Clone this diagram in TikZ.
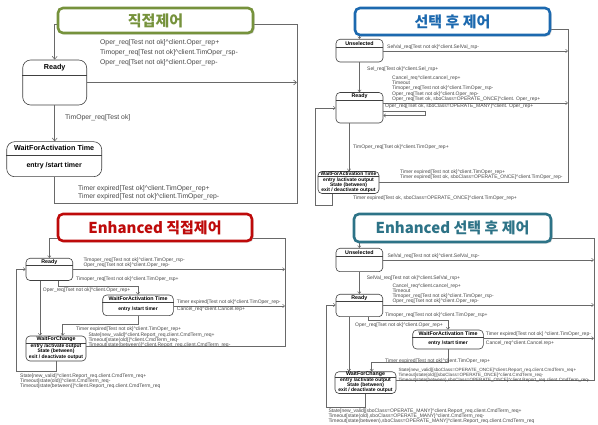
\documentclass[tikz,border=0pt]{standalone}
\usepackage{fontspec}
\setmainfont{Liberation Sans}
\newfontfamily\krfont{Noto Sans CJK KR}
\usetikzlibrary{arrows.meta,fit,shadows}
\definecolor{lncol}{RGB}{105,105,105}
\definecolor{txcol}{RGB}{70,70,70}
\definecolor{cgreen}{RGB}{118,146,60}
\definecolor{cblue}{RGB}{28,105,175}
\definecolor{cred}{RGB}{190,10,10}
\definecolor{cteal}{RGB}{45,115,135}
\newcommand\ca{\textasciicircum}
\newcommand\stbox[7]{%
  \node[#1, fit={(#3,#4) (#5,#6)}] (#2) {};
  \draw[divln] (#2.west |- 0,#7) -- (#2.east |- 0,#7);}
\tikzset{
  ln/.style={draw=lncol, line width=0.5pt},
  ar/.style={ln, -{Straight Barb[length=2pt,width=3.4pt]}},
  arB/.style={ln, line width=0.6pt, -{Straight Barb[length=3pt,width=5pt]}},
  stS/.style={draw=black!75, line width=0.6pt, rounded corners=4pt, inner sep=0pt, fill=white},
  stB/.style={stS, rounded corners=8pt},
  divln/.style={draw=black!75, line width=0.5pt},
  lS/.style={font=\fontsize{5}{5.1}\selectfont, text=txcol, inner sep=0pt, anchor=west, align=left},
  lB/.style={font=\fontsize{6.8}{10}\selectfont, text=txcol, inner sep=0pt, anchor=west, align=left},
  nS/.style={font=\fontsize{5.3}{5}\selectfont\bfseries, inner sep=0pt, align=center},
  nB/.style={font=\fontsize{7.2}{8}\selectfont\bfseries, inner sep=0pt, align=center},
  tbox/.style={draw=#1, line width=2.6pt, rounded corners=5pt, fill=white, inner sep=0pt,
    drop shadow={shadow xshift=1.5pt, shadow yshift=-1.5pt, fill=black!35}},
  ttxt/.style={font=\krfont\bfseries\fontsize{15}{16}\selectfont, text=#1, inner sep=0pt},
}
\begin{document}
\begin{tikzpicture}[x=1pt,y=-1pt]
\useasboundingbox (0,0) rectangle (598,425);
% ================= Q1 =================
\stbox{stB}{r1}{22.7}{60}{86.7}{105}{75}
\node[nB] (r1t) at (54.7,67.5) {Ready};
\stbox{stB}{w1}{6.7}{141.7}{101.7}{176.7}{155}
\node[nB] (w1t) at (54.2,148.4) {WaitForActivation Time};
\node[nB, font=\fontsize{7}{8}\selectfont\bfseries] (w1b) at (54.2,165.8) {entry /start timer};
\coordinate (q1a) at (297,82.5);
\coordinate (q1br) at (297,203);
\coordinate (q1tr) at (297,24);
\draw[arB] (r1.east) -- (q1a);
\draw[arB] (r1.south) -- (r1.south |- w1.north);
\draw[arB] (w1.south) |- (q1br) -- (q1tr) -| (r1.north);
\node[tbox=cgreen, fit={(58,8) (253,33)}] (t1) {};
\node[ttxt=cgreen] (t1t) at (t1) {직접제어};
\node[lB] (q1l1) at (100,52.9) {Oper\_req[Test not ok]\ca{}client.Oper\_rep+\\Timoper\_req[Test not ok]\ca{}client.TimOper\_rsp-\\Oper\_req[Tset not ok]\ca{}client.Oper\_rep-};
\node[lB] (q1l2) at (65,118) {TimOper\_req[Test ok]};
\node[lB, font=\fontsize{6.8}{8.4}\selectfont] (q1l3) at (78,192.5) {Timer expired[Test ok]\ca{}client.TimOper\_rep+\\Timer expired[Test not ok]\ca{}client.TimOper\_rep-};
% ================= Q2 =================
\stbox{stS}{u2}{336}{39.3}{383}{62}{47}
\node[nS] (u2t) at (359.5,43.2) {Unselected};
\stbox{stS}{r2}{336}{92.5}{383}{123}{100}
\node[nS] (r2t) at (359.5,96.3) {Ready};
\stbox{stS}{w2}{318}{171.5}{379}{193.5}{176.5}
\node[nS, font=\fontsize{5}{5}\selectfont\bfseries] (w2t) at (348.5,174) {WaitForActivation Time};
\node[nS, font=\fontsize{5}{4.9}\selectfont\bfseries] (w2b) at (348.5,185.2) {entry /activate output\\State (between)\\exit / deactivate output};
\coordinate (q2a) at (568,51);
\coordinate (q2b) at (568,103);
\coordinate (q2br) at (568,182.5);
\coordinate (q2tr) at (568,29.3);
\coordinate (q2s) at (425,111);
\coordinate (q2s2) at (425,115.5);
\coordinate (q2v) at (349,0);
\coordinate (q2l1) at (332,205);
\coordinate (q2l2) at (315,205);
\coordinate (q2l3) at (315,108);
\draw[ar] (w2.east) -- (q2br) -- (q2tr) -| (u2.north);
\draw[ar] (u2.east |- q2a) -- (q2a);
\draw[ar] (u2.south) -- (r2.north);
\draw[ar] (r2.east |- q2b) -- (q2b);
\draw[ar] (r2.east |- q2s) -- (q2s) -- (q2s2) -- (r2.east |- q2s2);
\draw[ar] (r2.south -| q2v) -- (w2.north -| q2v);
\draw[ar] (w2.south -| q2l1) -- (q2l1) -- (q2l2) -- (q2l3) -- (r2.west |- q2l3);
\node[tbox=cblue, fit={(355,8) (550,35)}] (t2) {};
\node[ttxt=cblue] (t2t) at (t2) {선택 후 제어};
\node[lS] (q2la) at (387,47.5) {SelVal\_req[Test not ok]\ca{}client.SelVal\_rsp-};
\node[lS] (q2lb) at (367,69) {Sel\_req[Test ok]\ca{}client.Sel\_rsp+};
\node[lS] (q2lc) at (392,88.7) {Cancel\_req\ca{}client.cancel\_rep+\\Timeout\\Timoper\_req[Test not ok]\ca{}client.TimOper\_rsp-\\Oper\_req[Tset not ok]\ca{}client.Oper\_rep-\\Oper\_req[Tset ok, sboClass=OPERATE\_ONCE]\ca{}client. Oper\_rep+};
\node[lS] (q2ld) at (385,106.7) {Oper\_req[Tset ok, sboClass=OPERATE\_MANY]\ca{}client. Oper\_rep+};
\node[lS] (q2le) at (353,147.7) {TimOper\_req[Tset ok]\ca{}client.TimOper\_rep+};
\node[lS] (q2lf) at (400,175) {Timer expired[Test not ok]\ca{}client.TimOper\_rep+\\Timer expired[Test ok, sboClass=OPERATE\_ONCE]\ca{}client.TimOper\_rep-};
\node[lS] (q2lg) at (353,198.3) {Timer expired[Test ok, sboClass=OPERATE\_ONCE]\ca{}client.TimOper\_rep+};
% ================= Q3 =================
\stbox{stS}{r3}{26}{258.3}{72.7}{280.5}{265.5}
\node[nS] (r3t) at (49.35,262) {Ready};
\stbox{stS}{w3}{102.7}{295}{173.3}{315.7}{302.5}
\node[nS] (w3t) at (138,298.8) {WaitForActivation Time};
\node[nS, font=\fontsize{5}{5}\selectfont\bfseries] (w3b) at (138,309.2) {entry /start timer};
\stbox{stS}{c3}{26}{336}{86}{361}{343}
\node[nS] (c3t) at (56,339.5) {WaitForChange};
\node[nS, font=\fontsize{5}{4.6}\selectfont\bfseries] (c3b) at (56,351.5) {entry /activate output\\State (between)\\exit / deactivate output};
\coordinate (q3a) at (285,269.3);
\coordinate (q3c) at (285,346.7);
\coordinate (q3tr) at (285,238.3);
\coordinate (q3b) at (58.3,286);
\coordinate (q3d) at (285,306);
\coordinate (q3e) at (62.7,324.3);
\coordinate (q3f) at (40,0);
\coordinate (q3g) at (56,371);
\coordinate (q3h) at (16,371);
\coordinate (q3i) at (16,269.3);
\draw[ar] (c3.east |- q3c) -- (q3c) -- (q3tr) -| (r3.north);
\draw[ar] (r3.east |- q3a) -- (q3a);
\draw[ar] (r3.south -| q3b) -- (q3b) -| (w3.north);
\draw[ar] (w3.east |- q3d) -- (q3d);
\draw[ar] (w3.south) |- (q3e) -- (c3.north -| q3e);
\draw[ar] (r3.south -| q3f) -- (c3.north -| q3f);
\draw[ar] (c3.south -| q3g) -- (q3g) -- (q3h) -- (q3i) -- (r3.west |- q3i);
\node[tbox=cred, fit={(58,214) (252,241)}] (t3) {};
\node[ttxt=cred] (t3t) at (t3) {Enhanced 직접제어};
\node[lS, font=\fontsize{5}{5}\selectfont] (q3la) at (83.3,263.2) {Timoper\_req[Test not ok]\ca{}client.TimOper\_rsp-\\Oper\_req[Tset not ok]\ca{}client.Oper\_rep-};
\node[lS] (q3lb) at (76,279.3) {Timoper\_req[Test not ok]\ca{}client.TimOper\_rsp+};
\node[lS] (q3lc) at (42.7,289.8) {Oper\_req[Tset not ok]\ca{}client.Oper\_rep+};
\node[lS] (q3ld) at (176.7,302.3) {Timer expired[Test not ok]\ca{}client.TimOper\_rep-};
\node[lS] (q3le) at (176.7,309.6) {Cancel\_req\ca{}client.Cancel.rep+};
\node[lS] (q3lf) at (76,329.3) {Timer expired[Test not ok]\ca{}client.TimOper\_rep+};
\node[lS, font=\fontsize{5}{5}\selectfont] (q3lg) at (88.3,340) {State[new\_valid]\ca{}client.Report\_req.client.CmdTerm\_req+\\Timeout[state(old)]\ca{}client.CmdTerm\_req-\\Timeout[state(between)]\ca{}client.Report\_req.client.CmdTerm\_req-};
\node[lS, font=\fontsize{5}{5}\selectfont] (q3lh) at (20,381.6) {State[new\_valid]\ca{}client.Report\_req.client.CmdTerm\_req+\\Timeout[state(old)]\ca{}client.CmdTerm\_req-\\Timeout[state(between)]\ca{}client.Report\_req.client.CmdTerm\_req};
% ================= Q4 =================
\stbox{stS}{u4}{336}{248.3}{382.7}{271.7}{256}
\node[nS] (u4t) at (359.35,252.2) {Unselected};
\stbox{stS}{r4}{336}{294.3}{382.7}{316.7}{301.7}
\node[nS] (r4t) at (359.35,298) {Ready};
\stbox{stS}{w4}{412.7}{330}{483.3}{349}{337.7}
\node[nS] (w4t) at (448,333.8) {WaitForActivation Time};
\node[nS, font=\fontsize{5}{5}\selectfont\bfseries] (w4b) at (448,343.5) {entry /start timer};
\stbox{stS}{c4}{335}{371.7}{396}{393.5}{377}
\node[nS] (c4t) at (365.5,374.4) {WaitForChange};
\node[nS, font=\fontsize{5}{4.8}\selectfont\bfseries] (c4b) at (365.5,385.4) {entry /activate output\\State (between)\\exit / deactivate output};
\coordinate (q4a) at (594,260);
\coordinate (q4b) at (594,305);
\coordinate (q4c) at (594,380.5);
\coordinate (q4tr) at (594,238.3);
\coordinate (q4d) at (368.3,320.7);
\coordinate (q4e) at (594,338.3);
\coordinate (q4f) at (371.7,362.7);
\coordinate (q4g) at (349,0);
\coordinate (q4h) at (365,407.7);
\coordinate (q4i) at (326,407.7);
\coordinate (q4j) at (326,305);
\draw[ar] (c4.east |- q4c) -- (q4c) -- (q4tr) -| (u4.north);
\draw[ar] (u4.east |- q4a) -- (q4a);
\draw[ar] (u4.south) -- (r4.north);
\draw[ar] (r4.east |- q4b) -- (q4b);
\draw[ar] (r4.south -| q4d) -- (q4d) -| (w4.north);
\draw[ar] (w4.east |- q4e) -- (q4e);
\draw[ar] (w4.south) |- (q4f) -- (c4.north -| q4f);
\draw[ar] (r4.south -| q4g) -- (c4.north -| q4g);
\draw[ar] (c4.south -| q4h) -- (q4h) -- (q4i) -- (q4j) -- (r4.west |- q4j);
\node[tbox=cteal, fit={(354,214) (551,242)}] (t4) {};
\node[ttxt=cteal] (t4t) at (t4) {Enhanced 선택 후 제어};
\node[lS] (q4la) at (387.3,256.7) {SelVal\_req[Test not ok]\ca{}client.SelVal\_rsp-};
\node[lS] (q4lb) at (366.7,278.3) {SelVal\_req[Test not ok]\ca{}client.SelVal\_rsp+};
\node[lS, font=\fontsize{5}{5}\selectfont] (q4lc) at (392.3,294.2) {Cancel\_req\ca{}client.cancel\_rep+\\Timeout\\Timoper\_req[Test not ok]\ca{}client.TimOper\_rsp-\\Oper\_req[Tset not ok]\ca{}client.Oper\_rep-};
\node[lS] (q4ld) at (385,315) {Timoper\_req[Test not ok]\ca{}client.TimOper\_rsp+};
\node[lS] (q4le) at (355,325) {Oper\_req[Tset not ok]\ca{}client.Oper\_rep+};
\node[lS] (q4lf) at (485.7,334.3) {Timer expired[Test not ok] \ca{}client.TimOper\_rep-};
\node[lS] (q4lg) at (485.7,343.3) {Cancel\_req\ca{}client.Cancel.rep+};
\node[lS] (q4lh) at (385,361) {Timer expired[Test not ok]\ca{}client.TimOper\_rep+};
\node[lS, font=\fontsize{4.6}{5}\selectfont] (q4li) at (398.3,375) {State[new\_valid][sboClass=OPERATE\_ONCE]\ca{}client.Report\_req.client.CmdTerm\_req+\\Timeout[state(old)][sboClass=OPERATE\_ONCE]\ca{}client.CmdTerm\_req-\\Timeout[state(between),sboClass=OPERATE\_ONCE]\ca{}client.Report\_req.client.CmdTerm\_req-};
\node[lS, font=\fontsize{5}{5}\selectfont] (q4lj) at (328.3,416.7) {State[new\_valid][sboClass=OPERATE\_MANY]\ca{}client.Report\_req.client.CmdTerm\_req+\\Timeout[state(old),sboClass=OPERATE\_MANY]\ca{}client.CmdTerm\_req-\\Timeout[state(between),sboClass=OPERATE\_MANY]\ca{}client.Report\_req.client.CmdTerm\_req};
\end{tikzpicture}
\end{document}
